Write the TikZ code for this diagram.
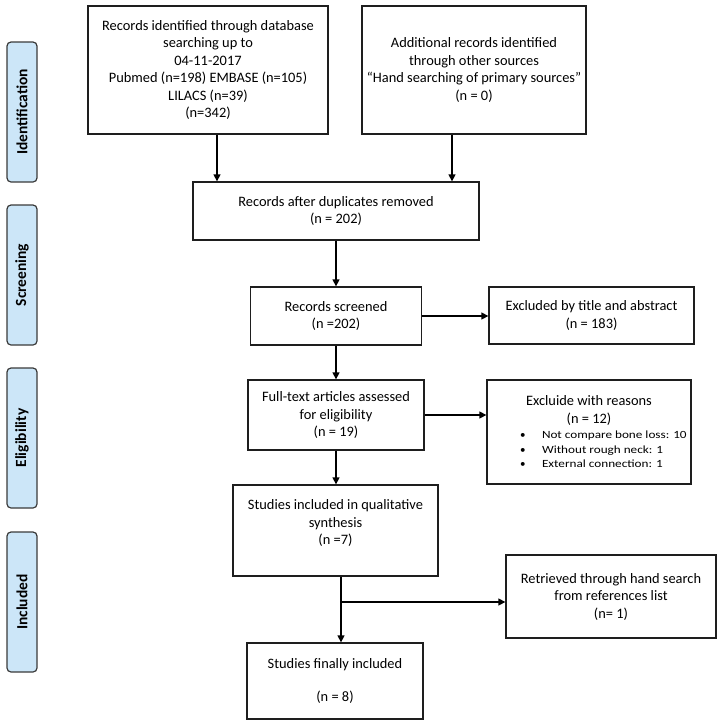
\documentclass[tikz,border=0pt]{standalone}
\usepackage{fontspec}
\setmainfont{Carlito}
\usetikzlibrary{arrows.meta}
\definecolor{sidefill}{HTML}{CCE6F8}
\definecolor{sideline}{HTML}{3A3A3A}
\definecolor{boxline}{HTML}{1E1E1E}
\newcommand{\bulletline}[1]{\hspace*{33pt}\makebox[22pt][l]{\textbullet}\scalebox{1.2}[1]{#1}}
\tikzset{
  flowbox/.style={draw=boxline, line width=1.3pt, fill=white, align=center, inner sep=0pt,
    font=\fontsize{14.4}{17.5}\selectfont},
  sidebox/.style={draw=sideline, line width=1.2pt, fill=sidefill, rounded corners=4pt,
    minimum width=30pt, minimum height=140pt, inner sep=0pt},
  sidetext/.style={rotate=90, font=\fontsize{15.5}{17}\selectfont\bfseries},
  flowarrow/.style={draw=black, line width=1.3pt, -{Triangle[length=7pt,width=7pt]}},
  flowline/.style={draw=black, line width=1.3pt}
}
\begin{document}
\begin{tikzpicture}[x=1pt,y=-1pt]
\useasboundingbox (0,0) rectangle (718,724);
% side labels
\node[sidebox] (sid) at (22,112) {};
\node[sidetext] (sidt) at (sid.center) {Identification};
\node[sidebox] (sscr) at (22,275) {};
\node[sidetext] (sscrt) at (sscr.center) {Screening};
\node[sidebox] (selg) at (22,438) {};
\node[sidetext] (selgt) at (selg.center) {Eligibility};
\node[sidebox] (sinc) at (22,602) {};
\node[sidetext] (sinct) at (sinc.center) {Included};
% boxes
\node[flowbox, minimum width=240pt, minimum height=128pt] (db) at (208,70)
  {Records identified through database\\searching up to\\04-11-2017\\Pubmed (n=198) EMBASE (n=105)\\LILACS (n=39)\\(n=342)};
\node[flowbox, minimum width=224pt, minimum height=128pt] (add) at (474,70)
  {Additional records identified\\through other sources\\``Hand searching of primary sources''\\(n = 0)};
\node[flowbox, minimum width=286pt, minimum height=58pt] (dup) at (336,211)
  {Records after duplicates removed\\(n = 202)};
\node[flowbox, minimum width=171pt, minimum height=58pt] (scr) at (336,316)
  {Records screened\\(n =202)};
\node[flowbox, minimum width=205pt, minimum height=57pt] (exc) at (591.5,315.5)
  {Excluded by title and abstract\\(n = 183)};
\node[flowbox, minimum width=176pt, minimum height=70pt] (full) at (336,415)
  {Full-text articles assessed\\for eligibility\\(n = 19)};
\node[flowbox, minimum width=204pt, minimum height=104pt] (excr) at (589,432)
  {\begin{minipage}{204pt}
   {\centering Excluide with reasons\\(n = 12)\par}
   \vspace{1pt}
   {\fontsize{11}{14.5}\selectfont
   \bulletline{Not compare bone loss: 10}\\
   \bulletline{Without rough neck: 1}\\
   \bulletline{External connection: 1}\par}
   \end{minipage}};
\node[flowbox, minimum width=205pt, minimum height=91pt] (qual) at (335.5,530.5) {};
\node[align=center, font=\fontsize{14.4}{17.5}\selectfont] (qualt) at (335.5,523)
  {Studies included in qualitative\\synthesis\\(n =7)};
\node[flowbox, minimum width=210pt, minimum height=83pt] (ret) at (611,596.5)
  {Retrieved through hand search\\from references list\\(n= 1)};
\node[flowbox, minimum width=176pt, minimum height=76pt] (fin) at (335,681)
  {Studies finally included\\[16pt](n = 8)};
% connectors
\draw[flowarrow] (db.south -| 217,0) -- (dup.north -| 217,0);
\draw[flowarrow] (add.south -| 452,0) -- (dup.north -| 452,0);
\draw[flowarrow] (dup.south -| scr.north) -- (scr.north);
\draw[flowarrow] (scr.east) -- (exc.west |- scr.east);
\draw[flowarrow] (scr.south) -- (full.north -| scr.south);
\draw[flowarrow] (full.east) -- (excr.west |- full.east);
\draw[flowarrow] (full.south) -- (qual.north -| full.south);
\coordinate (br) at (341,602);
\draw[flowarrow] (qual.south -| br) -- (fin.north -| br);
\draw[flowarrow] (br) -- (ret.west |- br);
\end{tikzpicture}
\end{document}
